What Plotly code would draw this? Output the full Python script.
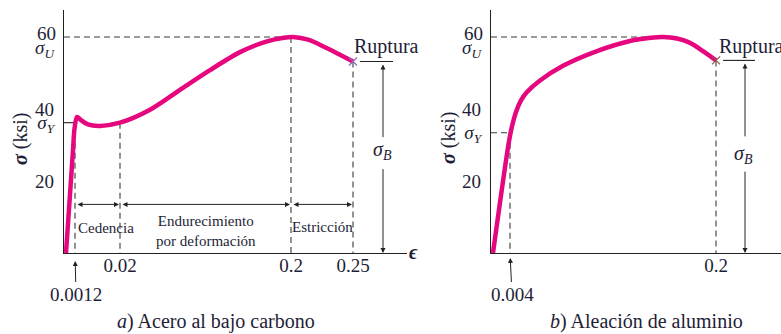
import plotly.graph_objects as go

# ---------------- data ----------------
# x values are positions along the (non-linear, schematic) strain axis
steel_x = [2, 9, 10.5, 13, 17, 24, 36, 56, 86, 119, 146, 176, 203, 220, 229, 245, 260, 275, 289]
steel_stress = [0, 28.5, 34.5, 37.8, 36.9, 35.7, 35.3, 36.2, 39.8, 45.9, 50.8, 55.8, 58.8, 59.8, 60, 59.2, 57.3, 55.2, 53.2]

alu_x = [2, 18, 21, 25, 30, 36, 49, 72, 106, 139, 160, 172, 186, 198, 212, 225]
alu_stress = [0, 31, 35.2, 39.2, 42.4, 44.7, 47.9, 52, 56.1, 58.9, 59.8, 60, 59.6, 58.5, 56.1, 53.5]

steel_tick_pos = [56, 227, 289]
steel_tick_text = ["0.02", "0.2", "0.25"]
steel_yield_pos = 11
steel_yield_label = "0.0012"
steel_sigma_y = 36.2
steel_sigma_u = 60
steel_peak_pos = 227
steel_rupture = (289, 53.2)
region_bounds = [11, 56, 227, 289]
region_labels = ["Cedencia", "Endurecimiento<br>por deformación", "Estricción"]

alu_tick_pos = [225]
alu_tick_text = ["0.2"]
alu_yield_pos = 19
alu_yield_label = "0.004"
alu_sigma_y = 33.4
alu_sigma_u = 60
alu_peak_pos = 170
alu_rupture = (225, 53.5)

y_ticks = [20, 40]
y_tick_text = ["20", "40"]
y_top_label = "60"

# ---------------- style ----------------
W, H = 781, 334
MAG = "#E6077F"
AX = "#222222"
DASHC = "#3a3a3a"
TXT = "#1e1e36"
FONT = "Liberation Serif, DejaVu Serif, serif"
DASH = "6px,4px"
NUM = 19

fig = go.Figure()


def line_trace(xs, ys, xa, ya, dash=None, color=DASHC, width=1.1):
    fig.add_trace(go.Scatter(x=xs, y=ys, mode="lines", xaxis=xa, yaxis=ya,
                             line=dict(color=color, width=width, dash=dash),
                             hoverinfo="skip", showlegend=False))


# dashed construction lines - steel
line_trace([0, steel_peak_pos], [steel_sigma_u] * 2, "x", "y", DASH)
line_trace([steel_peak_pos] * 2, [steel_sigma_u, 0], "x", "y", DASH)
line_trace([steel_rupture[0]] * 2, [steel_rupture[1], 0], "x", "y", DASH)
line_trace([steel_yield_pos] * 2, [steel_sigma_y, 0], "x", "y", DASH)
line_trace([region_bounds[1]] * 2, [steel_sigma_y, 0], "x", "y", DASH)
line_trace([0, steel_yield_pos], [steel_sigma_y] * 2, "x", "y", None, AX, 1.1)

# dashed construction lines - aluminium
line_trace([0, alu_peak_pos], [alu_sigma_u] * 2, "x2", "y2", DASH)
line_trace([alu_rupture[0]] * 2, [alu_rupture[1], 0], "x2", "y2", DASH)
line_trace([0, alu_yield_pos], [alu_sigma_y] * 2, "x2", "y2", DASH)
line_trace([alu_yield_pos] * 2, [alu_sigma_y, 0], "x2", "y2", DASH)

# ruptura short lines
line_trace([steel_rupture[0] + 7, steel_rupture[0] + 40], [steel_rupture[1]] * 2, "x", "y", None, AX, 1.1)
line_trace([alu_rupture[0] + 7, alu_rupture[0] + 39], [alu_rupture[1]] * 2, "x2", "y2", None, AX, 1.1)

# curves
fig.add_trace(go.Scatter(x=steel_x, y=steel_stress, mode="lines", xaxis="x", yaxis="y",
                         line=dict(color=MAG, width=4.5, shape="spline", smoothing=0.8),
                         showlegend=False, hoverinfo="skip"))
fig.add_trace(go.Scatter(x=alu_x, y=alu_stress, mode="lines", xaxis="x2", yaxis="y2",
                         line=dict(color=MAG, width=4.5, shape="spline", smoothing=1.0),
                         showlegend=False, hoverinfo="skip"))
# rupture markers
fig.add_trace(go.Scatter(x=[steel_rupture[0]], y=[steel_rupture[1]], mode="markers", xaxis="x", yaxis="y",
                         marker=dict(symbol="x-thin-open", size=8, line=dict(color="#555", width=1.2)),
                         showlegend=False, hoverinfo="skip"))
fig.add_trace(go.Scatter(x=[alu_rupture[0]], y=[alu_rupture[1]], mode="markers", xaxis="x2", yaxis="y2",
                         marker=dict(symbol="x-thin-open", size=8, line=dict(color="#555", width=1.2)),
                         showlegend=False, hoverinfo="skip"))

# ---------------- axes ----------------
ydom = [(H - 253) / H, (H - 10) / H]
yrange = [0, 67.5]
tickfont = dict(family=FONT, size=NUM, color=TXT)


def xaxis(domain, rng, tv, tt, anchor):
    return dict(domain=domain, range=rng, anchor=anchor, showline=True, linecolor=AX, linewidth=1.2,
                showgrid=False, zeroline=False, ticks="", tickvals=tv, ticktext=tt, tickfont=tickfont,
                ticklabelstandoff=-5, fixedrange=True)


def yaxis_labels(anchor, sy):
    return dict(domain=ydom, range=yrange, anchor=anchor, showline=True, linecolor=AX, linewidth=1.2,
                showgrid=False, zeroline=False, ticks="",
                tickvals=y_ticks + [sy], ticktext=y_tick_text + ["<i>σ</i><sub><i>Y</i></sub>"],
                tickfont=tickfont, ticklabelstandoff=5, fixedrange=True)


def yaxis_marks(anchor, over):
    return dict(domain=ydom, range=yrange, anchor=anchor, overlaying=over, showline=False,
                showgrid=False, zeroline=False, ticks="inside", ticklen=16, tickwidth=1.1,
                tickcolor=AX, tickvals=y_ticks, showticklabels=False, fixedrange=True)


fig.update_layout(
    width=W, height=H, margin=dict(l=0, r=0, t=0, b=0),
    template="none", paper_bgcolor="white", plot_bgcolor="rgba(0,0,0,0)",
    showlegend=False, font=dict(family=FONT, color=TXT), hovermode=False,
    xaxis=xaxis([64 / W, 407 / W], [0, 343], steel_tick_pos, steel_tick_text, "y"),
    yaxis=yaxis_labels("x", steel_sigma_y),
    yaxis3=yaxis_marks("x", "y"),
    xaxis2=xaxis([491 / W, 1.0], [0, 290], alu_tick_pos, alu_tick_text, "y2"),
    yaxis2=yaxis_labels("x2", alu_sigma_y),
    yaxis4=yaxis_marks("x2", "y2"),
)

# ---------------- annotations ----------------
ann = []


def arrow(x0, y0, x1, y1, xr, yr, both=False, st=1, sst=1):
    ann.append(dict(x=x1, y=y1, ax=x0, ay=y0, xref=xr, yref=yr, axref=xr, ayref=yr, text="",
                    showarrow=True, arrowhead=2, arrowsize=1, arrowwidth=1, arrowcolor=AX,
                    arrowside="end+start" if both else "end", standoff=st, startstandoff=sst))


def text(x, y, t, xr, yr, size=20, xanchor="center", yanchor="middle", xshift=0, yshift=0):
    ann.append(dict(x=x, y=y, text=t, xref=xr, yref=yr, showarrow=False, xanchor=xanchor,
                    yanchor=yanchor, xshift=xshift, yshift=yshift,
                    font=dict(family=FONT, size=size, color=TXT)))


# region double-arrows (steel)
region_y = 13.5
for a, b in zip(region_bounds[:-1], region_bounds[1:]):
    arrow(a, region_y, b, region_y, "x", "y", both=True)
text(region_bounds[0] + 1, 6.9, region_labels[0], "x", "y", size=15, xanchor="left")
text((region_bounds[1] + region_bounds[2]) / 2, 6.2, region_labels[1], "x", "y", size=15)
text((region_bounds[2] + region_bounds[3]) / 2, 7.2, region_labels[2], "x", "y", size=15)

# sigma_B arrows
arrow(319, 31.5, 319, steel_rupture[1], "x", "y", st=3)
arrow(319, 24.0, 319, 0, "x", "y", st=0)
text(318, 28.5, "<i>σ</i><sub><i>B</i></sub>", "x", "y")
arrow(254, 31.7, 254, alu_rupture[1], "x2", "y2", st=3)
arrow(254, 23.3, 254, 0, "x2", "y2", st=0)
text(252, 27.5, "<i>σ</i><sub><i>B</i></sub>", "x2", "y2")

# Ruptura
text(steel_rupture[0] - 1, 57.3, "Ruptura", "x", "y", xanchor="left")
text(alu_rupture[0] + 1, 57.3, "Ruptura", "x2", "y2", xanchor="left")

# 60 / sigma_U labels
for xr, yr, su in (("x domain", "y", steel_sigma_u), ("x2 domain", "y2", alu_sigma_u)):
    text(0, su, y_top_label, xr, yr, size=NUM, xanchor="right", xshift=-6, yshift=4)
    text(0, su, "<i>σ</i><sub><i>U</i></sub>", xr, yr, size=NUM, xanchor="right", xshift=-7, yshift=-12)

# yield strain arrows with labels
ann.append(dict(x=steel_yield_pos, y=0, xref="x", yref="y", text=steel_yield_label, showarrow=True,
                ax=1, ay=41, arrowhead=2, arrowsize=1, arrowwidth=1, arrowcolor=AX, standoff=8,
                font=dict(family=FONT, size=NUM, color=TXT)))
ann.append(dict(x=alu_yield_pos, y=0, xref="x2", yref="y2", text=alu_yield_label, showarrow=True,
                ax=2, ay=41, arrowhead=2, arrowsize=1, arrowwidth=1, arrowcolor=AX, standoff=5,
                font=dict(family=FONT, size=NUM, color=TXT)))

# axis titles
text(20 / W, (H - 139) / H, "<b><i>σ</i></b> (ksi)", "paper", "paper")
ann[-1]["textangle"] = -90
text(448 / W, (H - 138) / H, "<b><i>σ</i></b> (ksi)", "paper", "paper")
ann[-1]["textangle"] = -90

# epsilon at end of strain axis
text(413 / W, (H - 252) / H, "<b><i>ϵ</i></b>", "paper", "paper", size=20)

# captions
text(216 / W, (H - 321) / H, "<i>a</i>) Acero al bajo carbono", "paper", "paper")
text(646 / W, (H - 321) / H, "<i>b</i>) Aleación de aluminio", "paper", "paper")

fig.update_layout(annotations=ann)
fig.write_html("out.html", config={"displayModeBar": False},
               post_script="document.body.style.margin='0';document.body.style.padding='0';")
